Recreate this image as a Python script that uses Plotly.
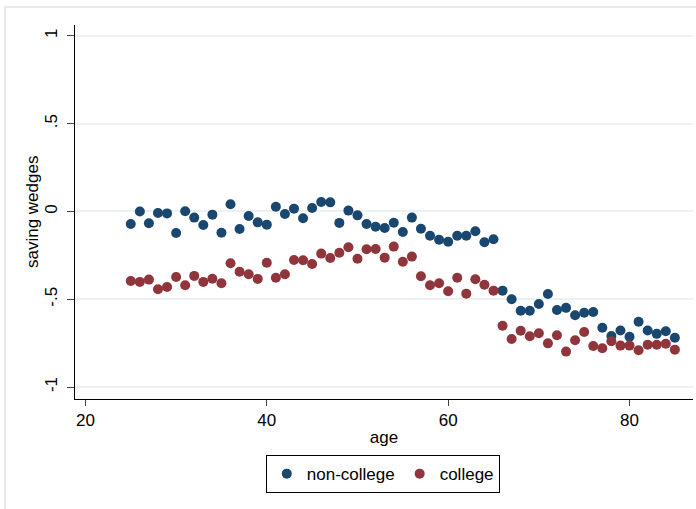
import plotly.graph_objects as go

# Age grid (one observation per age, 25..85)
ages = list(range(25, 86))

# Saving wedges by education group
non_college = [
    -0.071, 0.000, -0.067, -0.009, -0.011, -0.123, 0.001, -0.035, -0.077, -0.018,
    -0.121, 0.041, -0.100, -0.026, -0.062, -0.075, 0.027, -0.014, 0.016, -0.039,
    0.020, 0.054, 0.052, -0.065, 0.005, -0.022, -0.071, -0.087, -0.094, -0.064,
    -0.117, -0.035, -0.098, -0.138, -0.161, -0.172, -0.138, -0.138, -0.113, -0.175,
    -0.158, -0.451, -0.500, -0.565, -0.565, -0.527, -0.470, -0.561, -0.549, -0.591,
    -0.577, -0.573, -0.662, -0.709, -0.678, -0.713, -0.628, -0.678, -0.697, -0.682,
    -0.719,
]
college = [
    -0.396, -0.401, -0.388, -0.443, -0.430, -0.373, -0.420, -0.367, -0.401, -0.383,
    -0.409, -0.295, -0.343, -0.358, -0.384, -0.292, -0.377, -0.358, -0.276, -0.278,
    -0.299, -0.240, -0.265, -0.235, -0.204, -0.269, -0.215, -0.214, -0.263, -0.200,
    -0.286, -0.257, -0.369, -0.420, -0.409, -0.454, -0.377, -0.468, -0.386, -0.417,
    -0.451, -0.651, -0.726, -0.679, -0.711, -0.694, -0.751, -0.705, -0.798, -0.733,
    -0.686, -0.766, -0.779, -0.739, -0.764, -0.764, -0.790, -0.759, -0.759, -0.753,
    -0.787,
]

x_ticks = [20, 40, 60, 80]
y_ticks = [-1, -0.5, 0, 0.5, 1]
y_tick_labels = ["-1", "-.5", "0", ".5", "1"]

NAVY = "#1a476f"
MAROON = "#90353b"
FONT = "Liberation Sans, Arial, sans-serif"

fig = go.Figure()
fig.add_trace(go.Scatter(
    x=ages, y=non_college, mode="markers", name="non-college",
    marker=dict(color=NAVY, size=10, line=dict(width=0)),
))
fig.add_trace(go.Scatter(
    x=ages, y=college, mode="markers", name="college",
    marker=dict(color=MAROON, size=10, line=dict(width=0)),
))

# light outer frame around the graph region
fig.add_shape(
    type="rect", xref="paper", yref="paper",
    x0=-0.1133, x1=1.02, y0=-0.35, y1=1.048,
    line=dict(color="#e3ebee", width=2), fillcolor="rgba(0,0,0,0)",
    layer="below",
)

# y-axis title, set close to the rotated tick labels
fig.add_annotation(
    text="saving wedges", xref="paper", yref="paper",
    x=-0.0695, y=0.5, xanchor="center", yanchor="middle",
    textangle=-90, showarrow=False, font=dict(size=17),
)

fig.update_layout(
    width=696, height=509,
    margin=dict(l=75, r=3, t=25, b=110),
    paper_bgcolor="white", plot_bgcolor="white",
    font=dict(family=FONT, size=17, color="black"),
    showlegend=True,
    legend=dict(
        orientation="h", x=0.498, xanchor="center", y=-0.15, yanchor="top",
        bordercolor="black", borderwidth=1, bgcolor="white",
        font=dict(size=17), itemwidth=30, traceorder="normal",
    ),
)

fig.update_xaxes(
    range=[18.85, 87.0], tickvals=x_ticks,
    showgrid=False, zeroline=False,
    showline=True, linecolor="black", linewidth=1,
    ticks="outside", ticklen=6, tickcolor="#444", tickwidth=1,
    title=dict(text="age", standoff=1, font=dict(size=17)),
    tickfont=dict(size=17),
)
fig.update_yaxes(
    range=[-1.068, 1.062], tickvals=y_ticks, ticktext=y_tick_labels,
    tickangle=-90,
    showgrid=True, gridcolor="#eaf2f3", gridwidth=2, zeroline=False,
    showline=True, linecolor="black", linewidth=1,
    ticks="outside", ticklen=7, tickcolor="#444", tickwidth=1,
    ticklabelstandoff=3,
    tickfont=dict(size=17),
)

fig.write_html("out.html")
